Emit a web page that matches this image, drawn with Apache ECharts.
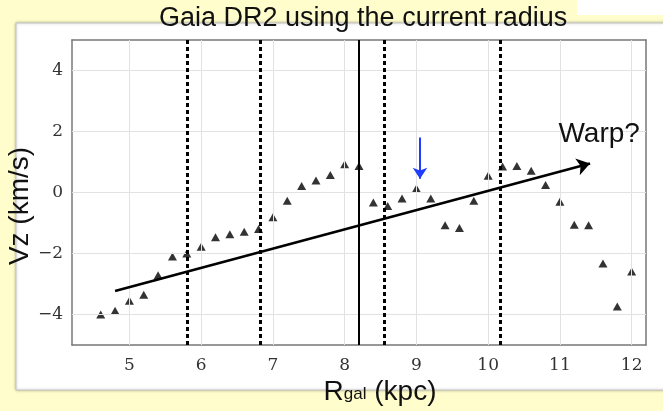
<!DOCTYPE html>
<html><head><meta charset="utf-8">
<script src="https://cdn.jsdelivr.net/npm/echarts@6/dist/echarts.min.js"></script>
<style>html,body{margin:0;padding:0;background:#fffdcc}#c{width:663px;height:411px}</style>
</head><body><div id="c"></div>
<script>
// ---- data ----
const rgal = [4.6,4.8,5.0,5.2,5.4,5.6,5.8,6.0,6.2,6.4,6.6,6.8,7.0,7.2,7.4,7.6,7.8,8.0,8.2,8.4,8.6,8.8,9.0,9.2,9.4,9.6,9.8,10.0,10.2,10.4,10.6,10.8,11.0,11.2,11.4,11.6,11.8,12.0];
const vz = [-4.0,-3.88,-3.55,-3.35,-2.71,-2.1,-2.0,-1.78,-1.47,-1.37,-1.29,-1.2,-0.81,-0.27,0.21,0.39,0.57,0.93,0.87,-0.33,-0.44,-0.2,0.13,-0.2,-1.07,-1.16,-0.27,0.55,0.85,0.87,0.71,0.25,-0.3,-1.06,-1.07,-2.33,-3.74,-2.59];
const xTicks = [5,6,7,8,9,10,11,12];
const yTicks = [-4,-2,0,2,4];
const dashedR = [5.8,6.83,8.55,10.17];
const solidR = [8.2];
const trendStart = [4.8,-3.23];
const trendEnd = [11.42,0.95];
const blueStart = [9.05,1.8];
const blueEnd = [9.05,0.45];
const warpAt = [10.98,1.45];
const titleText = 'Gaia DR2 using the current radius';
const xName = ['R','gal',' (kpc)'];
const yName = 'Vz (km/s)';

const chart = echarts.init(document.getElementById('c'), null, {renderer:'canvas'});
const pts = rgal.map((r,i)=>[r,vz[i]]);
const minus = v => v<0 ? '\u2212'+Math.abs(v) : String(v);
const axisCol = '#777';
const tickFont = {fontFamily:'DejaVu Serif', fontSize:17, color:'#333'};

function xAx(pos, labels){
  return {type:'value', min:4.2, max:12.2, position:pos,
    axisLine:{show:true, onZero:false, lineStyle:{color:axisCol, width:1.5}},
    axisTick:{show:true, inside:true, length:5, customValues:xTicks, lineStyle:{color:axisCol}},
    axisLabel:Object.assign({show:labels, customValues:xTicks, margin:12, formatter:minus}, tickFont),
    splitLine:{show:false}};
}
function yAx(pos, labels){
  return {type:'value', min:-5, max:5, position:pos,
    axisLine:{show:true, onZero:false, lineStyle:{color:axisCol, width:1.5}},
    axisTick:{show:true, inside:true, length:5, customValues:yTicks, lineStyle:{color:axisCol}},
    axisLabel:Object.assign({show:labels, customValues:yTicks, margin:9, formatter:minus}, tickFont),
    splitLine:{show:false}};
}

const option = {
  backgroundColor:'#fffdcc',
  animation:false,
  title:{text:titleText, left:159, top:5, padding:0,
    textStyle:{fontFamily:'Liberation Sans', fontSize:27, fontWeight:'normal', color:'#111'}},
  grid:{left:72, right:17, top:40, bottom:66, containLabel:false},
  xAxis:[xAx('bottom',true), xAx('top',false)],
  yAxis:[yAx('left',true), yAx('right',false)],
  graphic:[
    {type:'rect', z:-10, silent:true, shape:{x:16,y:23,width:700,height:367},
      style:{fill:'#ffffff', stroke:'#c4c4c4', lineWidth:1, shadowBlur:3, shadowColor:'rgba(0,0,0,0.25)'}},
    {type:'rect', z:-10, silent:true, shape:{x:577,y:0,width:90,height:15}, style:{fill:'#ffffff'}},
    {type:'text', z:10, x:20, y:206, rotation:Math.PI/2,
      style:{text:yName, fontFamily:'Liberation Sans', fontSize:28, fill:'#111', align:'center', verticalAlign:'middle'}},
    {type:'text', z:10, x:380, y:392,
      style:{text:'{r|'+xName[0]+'}{s|'+xName[1]+'}{r|'+xName[2]+'}', align:'center', verticalAlign:'middle',
        rich:{r:{fontFamily:'Liberation Sans', fontSize:28, fill:'#111', verticalAlign:'bottom'},
              s:{fontFamily:'Liberation Sans', fontSize:17, fill:'#111', verticalAlign:'bottom', padding:[0,0,3,0]}}}}
  ],
  series:[
    {type:'scatter', z:1, data:[], silent:true,
      markLine:{silent:true, symbol:'none', label:{show:false}, animation:false,
        lineStyle:{color:'#e2e2e2', width:1, type:'solid'},
        data: xTicks.map(v=>({xAxis:v})).concat(yTicks.map(v=>({yAxis:v})))}},
    {type:'scatter', z:3, data:pts, symbol:'triangle', symbolSize:[9,8], itemStyle:{color:'#000'}, silent:true},
    {type:'scatter', z:4, data:[], silent:true,
      markLine:{silent:true, symbol:'none', label:{show:false}, animation:false,
        data: dashedR.map(v=>({xAxis:v, lineStyle:{color:'#000', width:3, type:[4,3]}}))
          .concat(solidR.map(v=>({xAxis:v, lineStyle:{color:'#000', width:2, type:'solid'}})))}},
    {type:'scatter', z:5, data:[], silent:true,
      markLine:{silent:true, label:{show:false}, animation:false, symbol:['none','arrow'], symbolSize:12,
        data:[
          [{coord:trendStart, symbol:'none', lineStyle:{color:'#000', width:2.5, type:'solid'}},
           {coord:trendEnd, symbol:'arrow', symbolSize:13}],
          [{coord:blueStart, symbol:'none', lineStyle:{color:'#1f3cff', width:2, type:'solid'}},
           {coord:blueEnd, symbol:'arrow', symbolSize:11}]
        ]}}
  ]
};
chart.setOption(option);
const wp = chart.convertToPixel({xAxisIndex:0, yAxisIndex:0}, warpAt);
chart.setOption({graphic:[{}, {}, {}, {},
  {type:'text', z:10, x:wp[0], y:wp[1], style:{text:'Warp?', fontFamily:'Liberation Sans', fontSize:28, fill:'#111', align:'left', verticalAlign:'bottom'}}]});
</script></body></html>
